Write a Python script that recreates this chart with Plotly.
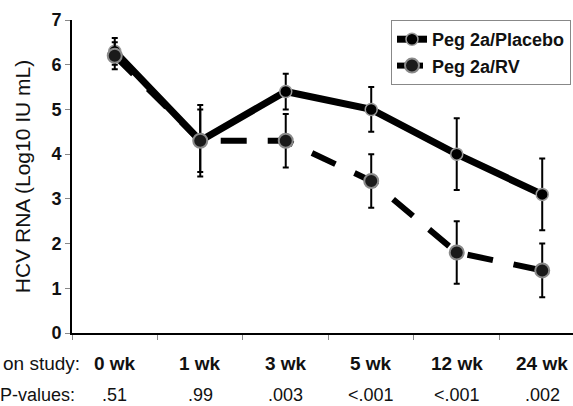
import plotly.graph_objects as go

categories = ["0 wk", "1 wk", "3 wk", "5 wk", "12 wk", "24 wk"]
p_values = [".51", ".99", ".003", "<.001", "<.001", ".002"]
placebo = [6.3, 4.3, 5.4, 5.0, 4.0, 3.1]
placebo_err = [0.3, 0.8, 0.4, 0.5, 0.8, 0.8]
rv = [6.2, 4.3, 4.3, 3.4, 1.8, 1.4]
rv_err = [0.3, 0.7, 0.6, 0.6, 0.7, 0.6]

xpos = list(range(len(categories)))
FONT = "Liberation Sans, Arial, sans-serif"

fig = go.Figure()
fig.add_trace(go.Scatter(
    x=xpos, y=placebo, name="Peg 2a/Placebo", mode="lines+markers",
    line=dict(color="black", width=7),
    marker=dict(symbol="circle", size=12, color="black", line=dict(color="#9a9a9a", width=1.5)),
    error_y=dict(type="data", array=placebo_err, visible=True, color="black", thickness=2, width=3),
))
fig.add_trace(go.Scatter(
    x=xpos, y=rv, name="Peg 2a/RV", mode="lines+markers",
    line=dict(color="black", width=6, dash="26px,21px"),
    marker=dict(symbol="circle", size=14, color="#1a1a1a", line=dict(color="#8a8a8a", width=2)),
    error_y=dict(type="data", array=rv_err, visible=True, color="black", thickness=2, width=3),
))

annotations = []
for i, (c, p) in enumerate(zip(categories, p_values)):
    annotations.append(dict(x=i, y=-0.096, xref="x", yref="paper", text="<b>%s</b>" % c,
                            showarrow=False, font=dict(size=19, color="#111", family=FONT),
                            xanchor="center", yanchor="middle"))
    annotations.append(dict(x=i, y=-0.198, xref="x", yref="paper", text=p,
                            showarrow=False, font=dict(size=18, color="#111", family=FONT),
                            xanchor="center", yanchor="middle"))
annotations.append(dict(x=0.02, y=-0.096, xref="paper", yref="paper", text="on study:",
                        showarrow=False, font=dict(size=19, color="#111", family=FONT),
                        xanchor="right", yanchor="middle"))
annotations.append(dict(x=0.01, y=-0.198, xref="paper", yref="paper", text="P-values:",
                        showarrow=False, font=dict(size=18, color="#111", family=FONT),
                        xanchor="right", yanchor="middle"))

fig.update_layout(
    width=573, height=406,
    margin=dict(l=72, r=0, t=20, b=73),
    paper_bgcolor="white", plot_bgcolor="white",
    font=dict(family=FONT, color="#111"),
    showlegend=True,
    legend=dict(x=0.996, y=1.0, xanchor="right", yanchor="top",
                bordercolor="#888", borderwidth=1, bgcolor="white",
                font=dict(size=18, family=FONT, color="#111", weight="bold"),
                itemwidth=30, tracegroupgap=0),
    annotations=annotations,
    xaxis=dict(range=[-0.5, 5.36], showgrid=False, zeroline=False,
               showline=True, linecolor="black", linewidth=2,
               tickvals=[-0.5, 0.5, 1.5, 2.5, 3.5, 4.5], ticktext=[""] * 6,
               ticks="outside", ticklen=5, tickcolor="#888", tickwidth=1),
    yaxis=dict(range=[0, 7], showgrid=False, zeroline=False,
               showline=True, linecolor="black", linewidth=2,
               tickvals=[0, 1, 2, 3, 4, 5, 6, 7],
               ticks="outside", ticklen=5, tickcolor="#888", tickwidth=1,
               tickfont=dict(size=18, family=FONT, color="#111", weight="bold"),
               title=dict(text="HCV RNA (Log10 IU mL)", standoff=15,
                          font=dict(size=21, family=FONT, color="#111"))),
)

fig.write_html("out.html", config={"displayModeBar": False},
               post_script="document.body.style.margin='0px';document.body.style.overflow='hidden';")
